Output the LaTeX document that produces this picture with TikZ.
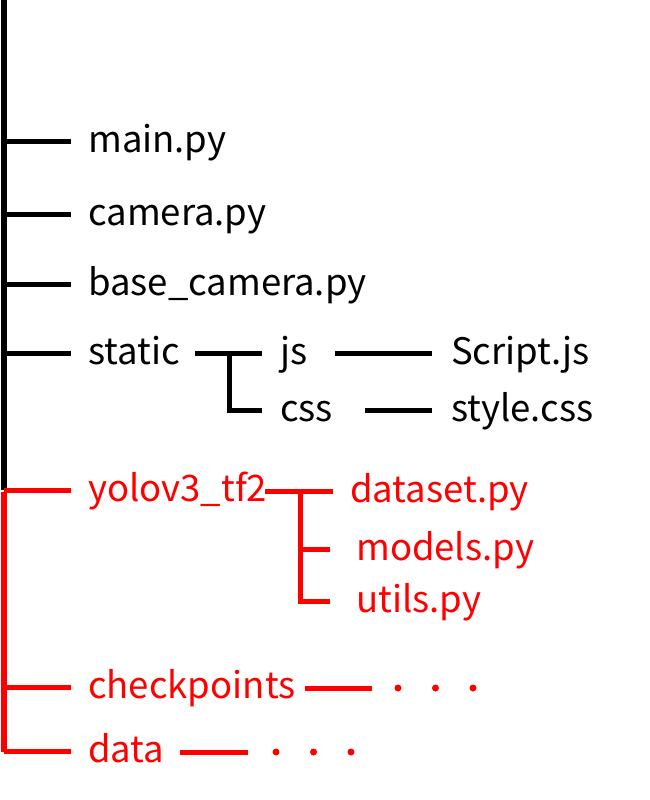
\documentclass[tikz,border=0pt]{standalone}
\usepackage{fontspec}
\setmainfont{Noto Sans CJK JP}
\usetikzlibrary{calc}
\begin{document}
\begin{tikzpicture}[x=1pt,y=-1pt,
        file/.style={anchor=base west,inner sep=0pt,font=\fontsize{36.5}{40}\selectfont},
        trunk/.style={line width=5.5pt},
        twig/.style={line width=5pt},
        hot/.style={color=red},
        more/.style={circle,fill=red,inner sep=0pt,minimum size=7pt}]
        \useasboundingbox (0,0) rectangle (650,800);
        % files and folders (base line 11 below the twig)
        \node[file] (main) at (88,152) {main.py};
        \node[file] (camera) at (88,225) {camera.py};
        \node[file] (base) at (88,295) {base\_camera.py};
        \node[file] (static) at (88,364) {static};
        \node[file] (js) at (280,364) {js};
        \node[file] (css) at (280,421) {css};
        \node[file] (script) at (451,364) {Script.js};
        \node[file] (style) at (451,421) {style.css};
        \node[file,hot] (yolo) at (88,501) {yolov3\_tf2};
        \node[file,hot] (dataset) at (350,502) {dataset.py};
        \node[file,hot] (models) at (356,560) {models.py};
        \node[file,hot] (utils) at (356,612) {utils.py};
        \node[file,hot] (ckpt) at (88,698) {checkpoints};
        \node[file,hot] (data) at (88,762) {data};
        % trunk
        \coordinate (top) at (4,0);
        \coordinate (split) at (4,490);
        \coordinate (bottom) at (4,752);
        \draw[trunk] (top) -- (split);
        \draw[trunk,hot] ([yshift=-2]split) -- (bottom);
        \foreach \f in {main,camera,base,static}
            \draw[twig] ($(top |- \f.base west)+(0,-11)$) -- ([shift={(-17,-11)}]\f.base west);
        \foreach \f in {yolo,ckpt,data}
            \draw[twig,hot] ($(top |- \f.base west)+(0,-11)$) -- ([shift={(-17,-11)}]\f.base west);
        % static
        \coordinate (sfork) at (229,353);
        \draw[twig] ([shift={(-85,-11)}]js.base west) -- ([shift={(-18,-11)}]js.base west);
        \draw[twig] (sfork) |- ([shift={(-18,-11)}]css.base west);
        \draw[twig] ([shift={(-116,-11)}]script.base west) -- ([shift={(-19,-11)}]script.base west);
        \draw[twig] ([shift={(-86,-11)}]style.base west) -- ([shift={(-19,-11)}]style.base west);
        % yolov3_tf2
        \coordinate (yfork) at (300,491);
        \draw[twig,hot] ([shift={(-85,-11)}]dataset.base west) -- ([shift={(-17,-11)}]dataset.base west);
        \draw[twig,hot] (yfork) |- ([shift={(-26,-11)}]utils.base west);
        \draw[twig,hot] ($(yfork |- models.base west)+(0,-11)$) -- ([shift={(-26,-11)}]models.base west);
        % checkpoints, data
        \coordinate (cline) at (305,688);
        \coordinate (dline) at (180,752);
        \draw[twig,hot] (cline) -- ++(67,0);
        \draw[twig,hot] (dline) -- ++(68,0);
        \foreach \i in {0,1,2} {
            \node[more] (c\i) at (398+37.5*\i,688) {};
            \node[more] (d\i) at (276+37.5*\i,752) {};
        }
\end{tikzpicture}
\end{document}
